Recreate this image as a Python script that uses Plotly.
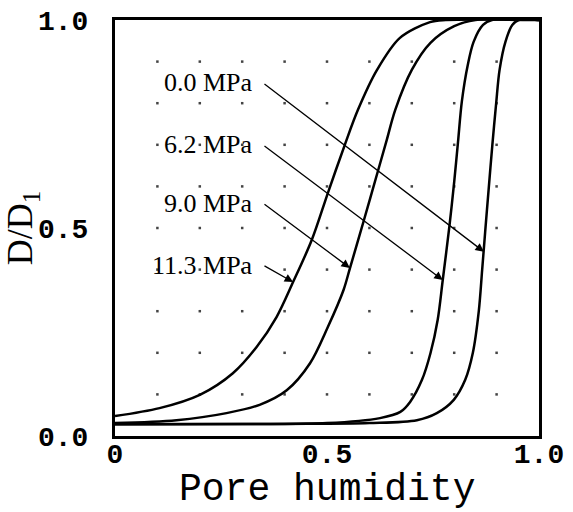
import numpy as np
import plotly.graph_objects as go

# Pore humidity (x) and D/D1 (y), one pair of lists per pressure
hum_113 = [0.0, 0.105, 0.2, 0.278, 0.334, 0.381, 0.42, 0.464, 0.502, 0.542, 0.573, 0.618, 0.672, 0.743, 0.78, 1.0]
d_113 = [0.048, 0.067, 0.099, 0.151, 0.214, 0.286, 0.37, 0.471, 0.584, 0.70, 0.784, 0.88, 0.957, 0.995, 1.0, 1.0]

hum_90 = [0.0, 0.145, 0.263, 0.341, 0.405, 0.46, 0.502, 0.539, 0.554, 0.586, 0.621, 0.641, 0.661, 0.700, 0.744, 0.80, 0.85, 1.0]
d_90 = [0.031, 0.038, 0.055, 0.075, 0.11, 0.175, 0.262, 0.351, 0.403, 0.515, 0.64, 0.712, 0.784, 0.88, 0.945, 0.985, 1.0, 1.0]

hum_62 = [0.0, 0.3, 0.5, 0.625, 0.673, 0.696, 0.724, 0.744, 0.761, 0.773, 0.789, 0.800, 0.809, 0.818, 0.832, 0.846, 0.868, 0.889, 1.0]
d_62 = [0.028, 0.029, 0.031, 0.043, 0.058, 0.082, 0.135, 0.199, 0.279, 0.375, 0.507, 0.611, 0.707, 0.804, 0.892, 0.948, 0.988, 1.0, 1.0]

hum_00 = [0.0, 0.4, 0.6, 0.712, 0.759, 0.799, 0.826, 0.844, 0.858, 0.866, 0.873, 0.881, 0.890, 0.899, 0.907, 0.921, 0.937, 0.952, 1.0]
d_00 = [0.028, 0.029, 0.031, 0.038, 0.055, 0.087, 0.135, 0.20, 0.30, 0.40, 0.49, 0.59, 0.70, 0.80, 0.88, 0.948, 0.988, 1.0, 1.0]

labels = ["0.0 MPa", "6.2 MPa", "9.0 MPa", "11.3 MPa"]
label_y = [0.849, 0.70, 0.56, 0.411]
arrow_tail_x = [0.349, 0.349, 0.349, 0.349]
arrow_head_x = [0.870, 0.773, 0.554, 0.42]
arrow_head_y = [0.443, 0.375, 0.404, 0.37]

x_ticks = [0, 0.5, 1.0]
x_ticktext = ["0", "0.5", "1.0"]
y_ticks = [0, 0.5, 1.0]
y_ticktext = ["0.0", "0.5", "1.0"]
grid_steps = [0.1, 0.2, 0.3, 0.4, 0.5, 0.6, 0.7, 0.8, 0.9]

fig = go.Figure()

# dotted grid: a small dot at every 0.1 grid crossing
gx, gy = np.meshgrid(grid_steps, grid_steps)
fig.add_trace(go.Scatter(x=gx.ravel(), y=gy.ravel(), mode="markers",
                         marker=dict(symbol="square", size=2.5, color="#444", line=dict(width=0)),
                         showlegend=False, hoverinfo="skip"))

for hx, dy in [(hum_113, d_113), (hum_90, d_90), (hum_62, d_62), (hum_00, d_00)]:
    fig.add_trace(go.Scatter(x=hx, y=dy, mode="lines",
                             line=dict(color="black", width=2.5, shape="spline", smoothing=0.9),
                             showlegend=False, hoverinfo="skip"))

annos = []
for txt, ly, tx, hx, hy in zip(labels, label_y, arrow_tail_x, arrow_head_x, arrow_head_y):
    annos.append(dict(x=tx - 0.019, y=ly, xref="x", yref="y", text=txt, showarrow=False,
                      xanchor="right", yanchor="middle",
                      font=dict(family="Liberation Serif", size=26, color="black")))
    annos.append(dict(x=hx, y=hy, ax=tx, ay=ly, xref="x", yref="y", axref="x", ayref="y",
                      text="", showarrow=True, arrowhead=2, arrowsize=1.3, arrowwidth=1.3,
                      arrowcolor="black", standoff=0, startstandoff=0))

# x-axis title placed below the tick labels
annos.append(dict(x=0.5, y=-0.128, xref="paper", yref="paper", text="Pore humidity",
                  showarrow=False, xanchor="center", yanchor="middle",
                  font=dict(family="Liberation Mono", size=38, color="black")))

tickfont = dict(family="Liberation Mono", size=28, color="black", weight="bold")
fig.update_layout(
    width=573, height=512,
    margin=dict(l=115, r=34, t=20, b=76, autoexpand=False),
    paper_bgcolor="white", plot_bgcolor="white",
    annotations=annos,
    xaxis=dict(range=[0, 1.0], tickvals=x_ticks, ticktext=x_ticktext, ticks="",
               showline=True, linewidth=3, linecolor="black", mirror=True,
               showgrid=False, zeroline=False, tickfont=tickfont, ticklabelstandoff=-10,
               automargin=False),
    yaxis=dict(range=[0, 1.0], tickvals=y_ticks, ticktext=y_ticktext, ticks="",
               showline=True, linewidth=3, linecolor="black", mirror=True,
               showgrid=False, zeroline=False, tickfont=tickfont, ticklabelstandoff=18,
               automargin=False,
               title=dict(text="D/D<sub>1</sub>", standoff=0,
                          font=dict(family="Liberation Serif", size=36, color="black"))),
)
fig.write_html("out.html")
